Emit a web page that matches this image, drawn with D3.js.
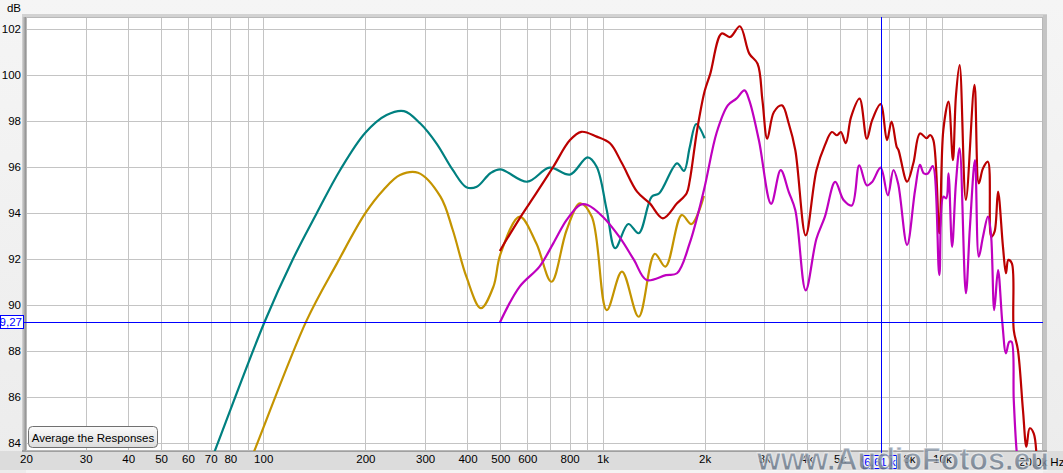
<!DOCTYPE html>
<html><head><meta charset="utf-8">
<script src="https://cdn.jsdelivr.net/npm/d3@7/dist/d3.min.js"></script>
<style>
html,body{margin:0;padding:0;background:#f0f0f0;}
svg{display:block;font-family:"Liberation Sans",Arial,sans-serif;}
</style></head><body>
<svg id="chart" width="1063" height="473"></svg>
<script>
// ---------- data ----------
const tealFreq = [66,72,101,122.7,143.8,168.6,200,231,260,290,324,362,397,426,467,500,600,698,802,904,961,1029,1090,1191,1278,1396,1470,1658,1738,1808,1888,2000];
const tealDb   = [82.2,83.65,89.27,92.03,93.99,95.87,97.49,98.26,98.43,97.9,97.03,95.87,95.12,95.14,95.73,95.9,95.36,95.97,95.67,96.42,96.01,94.13,92.47,93.52,93.12,94.71,94.86,96.16,95.83,96.87,97.87,97.25];

const goldFreq = [88,94.4,134,165,200,226,253,286,333,362,397,438,477,500,570,638,707,784,858,930,1029,1141,1278,1426,1533,1711,1829,1990];
const goldDb   = [82.6,83.7,89.3,91.81,93.99,95.0,95.65,95.75,94.71,93.26,91.23,89.86,90.8,92.2,93.84,92.68,91.01,93.26,94.42,93.84,89.78,91.45,89.49,92.22,91.67,93.91,93.52,94.74];

const redFreq = [498,570,638,716,802,866,961,1052,1141,1264,1378,1506,1658,1770,1808,1900,2000,2078,2244,2376,2540,2707,2864,2960,3058,3200,3380,3540,3700,3970,4270,4520,4740,4910,5040,5210,5400,5720,6010,6230,6600,6890,7110,7360,7450,7900,8240,8620,9020,9230,9440,9830,10100,10460,10780,11000,11280,11770,12480,12850,13220,13670,13980,14300,14640,15140,15450,15700,16080,16290,16760,17340,17750,18150,18650,19100];
const redDb   = [92.35,93.77,94.86,96.01,97.17,97.53,97.32,97.03,96.16,94.93,94.42,93.77,94.42,94.86,95.42,97.6,99.3,100.06,101.8,101.65,102.12,100.93,100.49,98.9,97.23,98.39,98.68,97.88,96.73,93.03,95.86,96.94,97.52,97.38,97.52,97.04,98.17,98.97,97.23,98.03,98.73,97.17,97.97,96.88,96.74,95.36,96.16,97.46,97.25,97.39,97.17,93.12,97.6,98.84,96.3,99.06,100.43,94.57,99.57,95.29,95.94,96.23,92.97,93.19,94.93,92.53,91.38,91.96,91.81,88.91,88.04,85.43,83.84,84.64,84.42,82.5];

const magFreq = [498,570,652,716,784,858,904,1002,1120,1238,1348,1538,1658,1808,1990,2170,2340,2480,2620,2707,2890,3140,3350,3540,3700,3970,4270,4520,4850,5140,5430,5710,6010,6230,6600,6930,7200,7430,7900,8340,8620,8850,9100,9400,9830,10100,10300,10460,10720,11000,11280,11770,12100,12520,12850,13220,13670,13950,14270,14640,15080,15450,15800,16050,16290,16600,17000];
const magDb   = [89.23,90.8,91.67,92.68,93.7,94.35,94.35,93.84,92.97,91.96,91.09,91.3,91.38,92.7,95.0,97.5,98.68,98.97,99.33,98.9,97.16,94.4,95.86,94.91,94.12,90.64,92.88,93.83,95.35,94.55,94.33,96.07,95.2,95.35,95.97,94.77,95.87,95.29,92.61,95.0,96.09,95.72,95.72,96.04,91.3,94.71,94.64,95.72,92.53,95.29,96.81,90.51,93.4,96.3,92.1,92.97,93.84,93.12,89.78,91.52,89.2,87.9,88.4,88.4,85.87,83.7,82.3];

const gridFreqs = [20,30,40,50,60,70,80,90,100,200,300,400,500,600,700,800,900,1000,2000,3000,4000,5000,6000,7000,8000,9000,10000,20000];
const xTickValues = [20,30,40,50,60,70,80,100,200,300,400,500,600,800,1000,2000,3000,4000,5000,6000,8000,10000];
const xTickLabels = ["20","30","40","50","60","70","80","100","200","300","400","500","600","800","1k","2k","3k","4k","5k","6k","8k","10k"];
const yTickValues = [84,86,88,90,92,94,96,98,100,102];
const cursorFreqLabel = "6,61 k";
const cursorDbLabel = "9,27";
const cursorFreq = 6610;
const cursorDb = 89.27;

const series = [
  {name:"teal", f:tealFreq, v:tealDb, color:"#008080"},
  {name:"gold", f:goldFreq, v:goldDb, color:"#c49400"},
  {name:"red",  f:redFreq,  v:redDb,  color:"#bb0000"},
  {name:"mag",  f:magFreq,  v:magDb,  color:"#bf00bf"}
];

// ---------- layout ----------
const svg = d3.select("#chart");
const PL=26, PR=1043, PT=17, PB=451;
const x = d3.scaleLog().domain([20,20000]).range([26,1044]);
const y = d3.scaleLinear().domain([84,102]).range([443,29]);

const defs = svg.append("defs");
const bg = defs.append("linearGradient").attr("id","bg").attr("x1",0).attr("y1",0).attr("x2",0).attr("y2",1);
bg.append("stop").attr("offset","0%").attr("stop-color","#f5f5f5");
bg.append("stop").attr("offset","100%").attr("stop-color","#ececec");
const lb = defs.append("linearGradient").attr("id","lb").attr("x1",0).attr("y1",0).attr("x2",1).attr("y2",0);
lb.append("stop").attr("offset","0%").attr("stop-color","#d8d8d8");
lb.append("stop").attr("offset","100%").attr("stop-color","#8e8e8e");
const btn = defs.append("linearGradient").attr("id","btn").attr("x1",0).attr("y1",0).attr("x2",0).attr("y2",1);
btn.append("stop").attr("offset","0%").attr("stop-color","#fbfbfb");
btn.append("stop").attr("offset","100%").attr("stop-color","#dcdcdc");
const wm = defs.append("linearGradient").attr("id","wm").attr("x1",0).attr("y1",0).attr("x2",0).attr("y2",1);
wm.append("stop").attr("offset","0%").attr("stop-color","#9aa6b4");
wm.append("stop").attr("offset","100%").attr("stop-color","#5d6b7c");
defs.append("clipPath").attr("id","plotclip").append("rect")
  .attr("x",PL).attr("y",PT).attr("width",PR-PL).attr("height",PB-PT);

svg.append("rect").attr("width",1063).attr("height",473).attr("fill","url(#bg)");
// axis band
svg.append("rect").attr("x",0).attr("y",PB).attr("width",1063).attr("height",19).attr("fill","#dcdcdc");
svg.append("line").attr("x1",26).attr("x2",1043).attr("y1",470.5).attr("y2",470.5).attr("stroke","#a8a8a8");
svg.append("rect").attr("x",26).attr("y",470).attr("width",1017).attr("height",3).attr("fill","#f4f4f4");

// frame bevel / shadow
svg.append("rect").attr("x",PL-4).attr("y",PT-3).attr("width",PR-PL+8).attr("height",PB-PT+4).attr("fill","#d2d2d2");
svg.append("rect").attr("x",PL-4).attr("y",PT).attr("width",4).attr("height",PB-PT).attr("fill","url(#lb)");
svg.append("rect").attr("x",PR).attr("y",PT-2).attr("width",4).attr("height",PB-PT+2).attr("fill","#c4c4c4");
svg.append("rect").attr("x",PL-4).attr("y",PB-1).attr("width",PR-PL+8).attr("height",2).attr("fill","#a0a0a0");
svg.append("rect").attr("x",PL).attr("y",PT).attr("width",PR-PL).attr("height",PB-PT).attr("fill","#ffffff");

// grid
const grid = svg.append("g").attr("clip-path","url(#plotclip)");
grid.selectAll("line.v").data(gridFreqs).join("line")
  .attr("x1",d=>Math.round(x(d))+0.5).attr("x2",d=>Math.round(x(d))+0.5)
  .attr("y1",PT).attr("y2",PB).attr("stroke","#c4c4c4").attr("stroke-width",1);
grid.selectAll("line.h").data(yTickValues).join("line")
  .attr("y1",d=>Math.round(y(d))+0.5).attr("y2",d=>Math.round(y(d))+0.5)
  .attr("x1",PL).attr("x2",PR).attr("stroke","#c4c4c4").attr("stroke-width",1);
svg.append("rect").attr("x",PL+0.5).attr("y",PT+0.5).attr("width",PR-PL-1).attr("height",PB-PT-1)
  .attr("fill","none").attr("stroke","#b8b8b8");

// curves
const line = d3.line().x(d=>x(d[0])).y(d=>y(d[1])).curve(d3.curveCatmullRom.alpha(0.5));
const cg = svg.append("g").attr("clip-path","url(#plotclip)");
series.forEach(s=>{
  const pts = s.f.map((f,i)=>[f,s.v[i]]);
  cg.append("path").attr("d",line(pts)).attr("fill","none")
    .attr("stroke",s.color).attr("stroke-width",2.2).attr("stroke-linejoin","round");
});

// cursor lines
const cx = Math.round(x(cursorFreq))+0.5, cy = Math.round(y(cursorDb))+0.5;
svg.append("line").attr("x1",cx).attr("x2",cx).attr("y1",PT).attr("y2",456).attr("stroke","#0000ff");
svg.append("line").attr("x1",24).attr("x2",PR).attr("y1",cy).attr("y2",cy).attr("stroke","#0000ff");

// y axis
const yAxis = d3.axisLeft(y).tickValues(yTickValues).tickSize(0).tickPadding(0).tickFormat(d3.format("d"));
const ya = svg.append("g").attr("transform","translate(21,0)").call(yAxis);
ya.select(".domain").remove();
ya.selectAll("text").attr("font-size",11.5).attr("fill","#000").attr("font-family","Liberation Sans, Arial, sans-serif");
svg.append("text").attr("x",21).attr("y",12).attr("text-anchor","end").attr("font-size",11.5).text("dB");

// x axis
const xAxis = d3.axisBottom(x).tickValues(xTickValues).tickSize(0).tickPadding(0)
  .tickFormat(d=>xTickLabels[xTickValues.indexOf(d)]);
const xa = svg.append("g").attr("transform","translate(0,455)").call(xAxis);
xa.select(".domain").remove();
xa.selectAll("text").attr("font-size",11.5).attr("fill","#000").attr("font-family","Liberation Sans, Arial, sans-serif");
svg.append("text").attr("x",1019).attr("y",466).attr("font-size",11.5).text("20,0k Hz");

// cursor labels
svg.append("rect").attr("x",863.5).attr("y",455.5).attr("width",33).attr("height",13).attr("fill","#f2f2f2").attr("stroke","#0000ff");
svg.append("text").attr("x",880).attr("y",466).attr("text-anchor","middle").attr("font-size",11.5).attr("fill","#0000ff").text(cursorFreqLabel);
svg.append("rect").attr("x",0.5).attr("y",315.5).attr("width",23).attr("height",13).attr("fill","#ffffff").attr("stroke","#0000ff");
svg.append("text").attr("x",22).attr("y",326).attr("text-anchor","end").attr("font-size",11.5).attr("fill","#0000ff").text(cursorDbLabel);

// button
svg.append("rect").attr("x",28.5).attr("y",426.5).attr("width",129).attr("height",21).attr("rx",4)
  .attr("fill","url(#btn)").attr("stroke","#707070");
svg.append("text").attr("x",93).attr("y",441.5).attr("text-anchor","middle").attr("font-size",11.5).text("Average the Responses");

// watermark
svg.append("text").attr("x",757).attr("y",470).attr("font-size",31).attr("font-weight","bold")
  .attr("textLength",292).attr("lengthAdjust","spacingAndGlyphs")
  .attr("fill","url(#wm)").attr("fill-opacity",0.85).attr("stroke","#ffffff").attr("stroke-width",0.8).attr("stroke-opacity",0.7)
  .text("www.AudioFotos.eu");
</script>
</body></html>
